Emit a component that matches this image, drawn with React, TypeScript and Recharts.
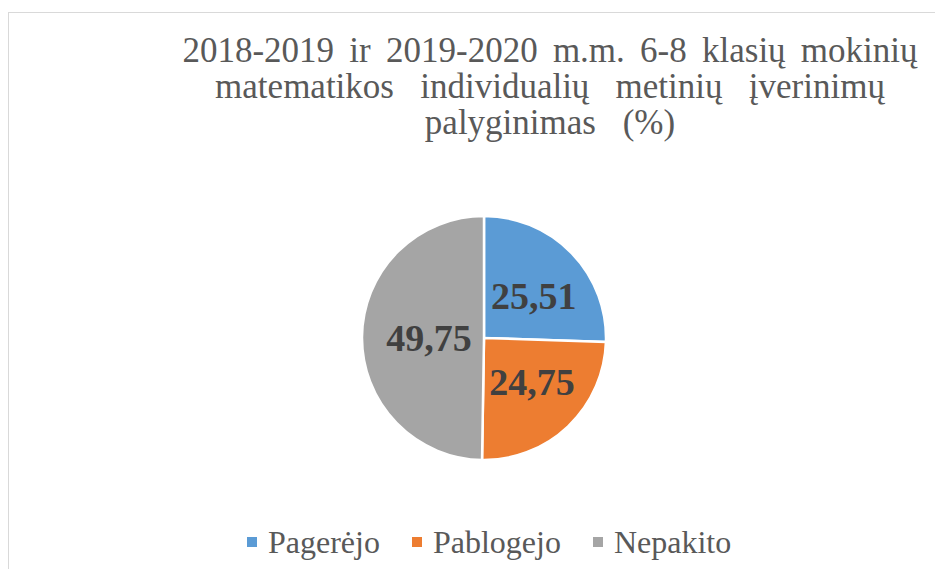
import { PieChart, Pie, Cell, Legend } from 'recharts';

const categories = ['Pagerėjo', 'Pablogejo', 'Nepakito'];
const shares = [25.51, 24.75, 49.75];
const colors = ['#5B9BD5', '#ED7D31', '#A5A5A5'];
const titleLines = [
  '2018-2019 ir 2019-2020 m.m. 6-8 klasių mokinių',
  'matematikos individualių metinių įverinimų',
  'palyginimas (%)',
];
const titleSpacing = [6.5, 17.5, 18];

const data = categories.map((name, i) => ({ name, value: shares[i] }));
const FONT = '"Liberation Serif", "Times New Roman", serif';
const RAD = Math.PI / 180;

type LabelProps = { cx?: number; cy?: number; midAngle?: number; outerRadius?: number; value?: number };
function ValueLabel({ cx = 0, cy = 0, midAngle = 0, outerRadius = 0, value = 0 }: LabelProps) {
  const r = outerRadius * 0.5;
  const x = cx + r * Math.cos(-midAngle * RAD) + 6;
  const y = cy + r * Math.sin(-midAngle * RAD);
  return (
    <text x={x} y={y + 13} textAnchor="middle" fill="#404040"
      style={{ fontFamily: FONT, fontSize: 38, fontWeight: 700 }}>
      {Number(value).toFixed(2).replace('.', ',')}
    </text>
  );
}

// legend keeps the series order (recharts 3 sorts by name otherwise)
function LegendContent() {
  return (
    <div style={{ display: 'flex', alignItems: 'center', fontFamily: FONT, fontSize: 32, lineHeight: '32px', color: '#595959' }}>
      {categories.map((c, i) => (
        <div key={c} style={{ display: 'flex', alignItems: 'center', marginRight: 32 }}>
          <span style={{ width: 10, height: 10, background: colors[i], marginRight: 11, display: 'inline-block' }} />
          <span>{c}</span>
        </div>
      ))}
    </div>
  );
}

export default function App() {
  return (
    <div style={{ position: 'relative', width: 935, height: 561, overflow: 'hidden', background: '#fff' }}>
      <div style={{ position: 'absolute', left: 0, top: 4, width: 1200, height: 800, border: '1.5px solid #d9d9d9', boxSizing: 'border-box' }} />
      {titleLines.map((t, i) => (
        <div key={i} style={{
          position: 'absolute', left: 42, width: 1000, top: 25.9 + i * 36, height: 34, textAlign: 'center',
          fontFamily: FONT, fontSize: 35, lineHeight: '34px', color: '#595959',
          whiteSpace: 'nowrap', wordSpacing: titleSpacing[i],
        }}>{t}</div>
      ))}
      <div style={{ position: 'absolute', left: 0, top: 0 }}>
        <PieChart width={935} height={561} margin={{ top: 0, right: 0, bottom: 0, left: 0 }}>
          <Pie data={data} dataKey="value" nameKey="name" cx={476} cy={330} outerRadius={122}
            startAngle={90} endAngle={-270} stroke="#ffffff" strokeWidth={2.5}
            label={ValueLabel} labelLine={false} isAnimationActive={false}>
            {data.map((d, i) => <Cell key={d.name} fill={colors[i]} />)}
          </Pie>
          <Legend content={<LegendContent />}
            wrapperStyle={{ position: 'absolute', left: 239, top: 517.5, width: 'auto', bottom: 'auto' }} />
        </PieChart>
      </div>
    </div>
  );
}
